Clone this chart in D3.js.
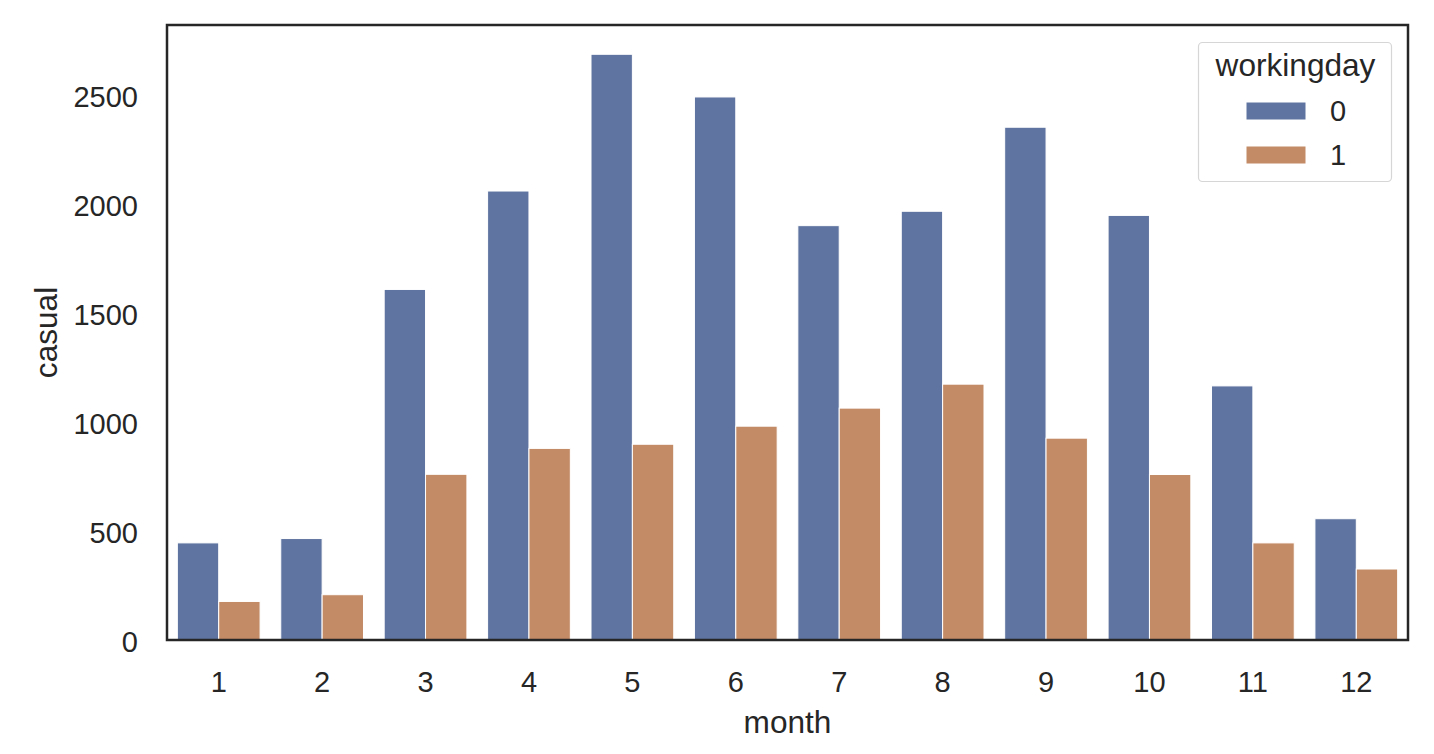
<!DOCTYPE html>
<html>
<head>
<meta charset="utf-8">
<script src="https://cdn.jsdelivr.net/npm/d3@7"></script>
<style>
  html, body { margin: 0; padding: 0; background: #fff; }
  svg { display: block; font-family: "Liberation Sans", Arial, sans-serif; }
</style>
</head>
<body>
<svg id="chart" width="1434" height="754"></svg>
<script>
const months = ["1","2","3","4","5","6","7","8","9","10","11","12"];
const hues = ["0","1"];
const casual0 = [446, 466, 1610, 2062, 2690, 2494, 1903, 1969, 2355, 1950, 1167, 557];
const casual1 = [177, 208, 761, 880, 899, 982, 1065, 1175, 927, 760, 446, 326];
const yTicks = [0, 500, 1000, 1500, 2000, 2500];
const colors = ["#5f74a0", "#c38b66"];

const svg = d3.select("#chart");
const pL = 167, pR = 1408, pT = 25, pB = 640;
const textColor = "#262626";
const tickFont = 29, labelFont = 31.6;

const data = months.map((m, i) => ({ month: m, values: [casual0[i], casual1[i]] }));
const yMax = d3.max([...casual0, ...casual1]) * 1.05;

const xOuter = d3.scaleBand().domain(months).range([pL, pR]);
const xHue = d3.scaleBand().domain(hues).range([0, xOuter.bandwidth() * 0.8]);
const y = d3.scaleLinear().domain([0, yMax]).range([pB, pT]);

// bars
const g = svg.append("g");
data.forEach(d => {
  const x0 = xOuter(d.month) + xOuter.bandwidth() * 0.1;
  hues.forEach((h, j) => {
    g.append("rect")
      .attr("x", x0 + xHue(h))
      .attr("y", y(d.values[j]))
      .attr("width", xHue.bandwidth())
      .attr("height", y(0) - y(d.values[j]))
      .attr("fill", colors[j])
      .attr("stroke", "#fff")
      .attr("stroke-width", 1);
  });
});

// axes
const xAxis = d3.axisBottom(xOuter).tickSize(0).tickPadding(0);
const gx = svg.append("g").attr("transform", `translate(0,${pB})`).call(xAxis);
gx.select(".domain").remove();
gx.selectAll("text").attr("font-size", tickFont).attr("fill", textColor)
  .attr("font-family", "Liberation Sans, Arial, sans-serif").attr("y", 52).attr("dy", "0");

const yAxis = d3.axisLeft(y).tickValues(yTicks).tickSize(0).tickPadding(29).tickFormat(d3.format("d"));
const gy = svg.append("g").attr("transform", `translate(${pL},0)`).call(yAxis);
gy.select(".domain").remove();
gy.selectAll("text").attr("font-size", tickFont).attr("fill", textColor)
  .attr("font-family", "Liberation Sans, Arial, sans-serif").attr("dy", "0.38em");

// frame
svg.append("rect")
  .attr("x", pL).attr("y", pT)
  .attr("width", pR - pL).attr("height", pB - pT)
  .attr("fill", "none").attr("stroke", textColor).attr("stroke-width", 2.5);

// axis labels
svg.append("text").attr("x", (pL + pR) / 2).attr("y", 733)
  .attr("text-anchor", "middle").attr("font-size", labelFont).attr("fill", textColor).text("month");
svg.append("text").attr("transform", `translate(57,${(pT + pB) / 2}) rotate(-90)`)
  .attr("text-anchor", "middle").attr("font-size", labelFont).attr("fill", textColor).text("casual");

// legend
const lg = svg.append("g");
lg.append("rect").attr("x", 1198.5).attr("y", 42.5).attr("width", 193).attr("height", 139)
  .attr("rx", 4).attr("fill", "#fff").attr("fill-opacity", 0.8).attr("stroke", "#d6d6d6").attr("stroke-width", 1.2);
lg.append("text").attr("x", 1295.5).attr("y", 76).attr("text-anchor", "middle")
  .attr("font-size", labelFont).attr("fill", textColor).text("workingday");
hues.forEach((h, j) => {
  const yy = 102 + j * 44;
  lg.append("rect").attr("x", 1246).attr("y", yy).attr("width", 60).attr("height", 18)
    .attr("fill", colors[j]).attr("stroke", "#fff").attr("stroke-width", 1);
  lg.append("text").attr("x", 1330).attr("y", yy + 19)
    .attr("font-size", tickFont).attr("fill", textColor).text(h);
});
</script>
</body>
</html>
